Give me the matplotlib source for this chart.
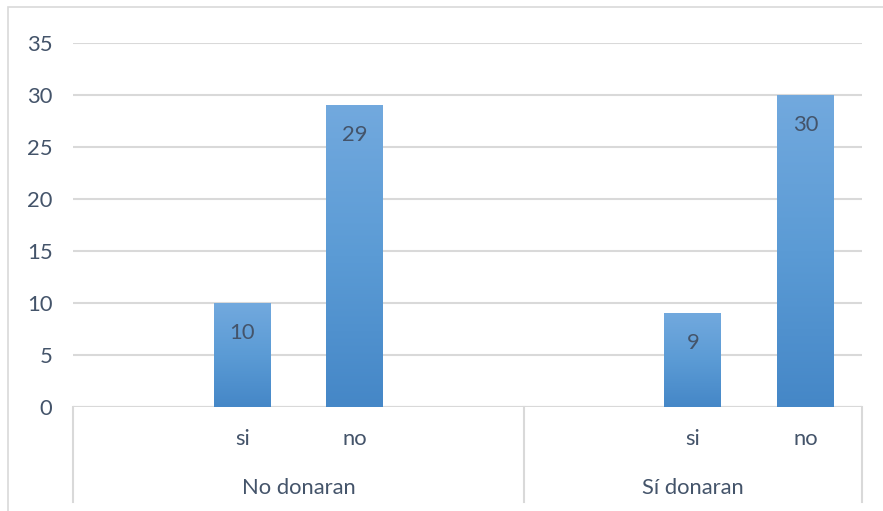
import matplotlib.pyplot as plt
import numpy as np
from matplotlib.patches import Rectangle
from matplotlib.colors import LinearSegmentedColormap

# category axis: two groups, each with answer slots (empty slots are spacing)
groups = ["No donaran", "Sí donaran"]
answers = [["", "si", "no", ""], ["", "si", "no"]]
counts = [[None, 10, 29, None], [None, 9, 30]]

yticks = [0, 5, 10, 15, 20, 25, 30, 35]

plt.rcParams['font.family'] = ['Lato', 'DejaVu Sans']
text_col = "#44546a"
tick_col = "#44546a"
grid_col = "#d9d9d9"
fs = 15.8

fig = plt.figure(figsize=(8.83, 5.11), dpi=100)
W, H = 883, 511
ax = fig.add_axes([73.3 / W, 1 - 406.7 / H, (861.7 - 73.3) / W, (406.7 - 42.7) / H])

# outer chart border
fig.patches.append(Rectangle((8 / W, -0.1), 1.1, (1 - 7 / H) + 0.1, transform=fig.transFigure,
                             fill=False, edgecolor=grid_col, lw=1.2))

grad = LinearSegmentedColormap.from_list("bar", ["#4587c7", "#5b9bd5", "#72a9de"])

xs, labels, vals = [], [], []
pos = 0
bounds = [-0.5]
for opts, cnt in zip(answers, counts):
    for o, c in zip(opts, cnt):
        xs.append(pos)
        labels.append(o)
        vals.append(c)
        pos += 1
    bounds.append(pos - 0.5)

width = 0.506
for x, v in zip(xs, vals):
    if v is None:
        continue
    bar = ax.bar(x, v, width=width, color="none", edgecolor="none")[0]
    img = ax.imshow(np.linspace(0, 1, 256).reshape(-1, 1), cmap=grad, origin="lower",
                    extent=[x - width / 2, x + width / 2, 0, v], aspect="auto", zorder=2)
    img.set_clip_path(bar)
    ax.text(x, v - 2.9, str(v), ha="center", va="center", fontsize=fs, color=text_col, zorder=3)

ax.set_aspect("auto")
ax.set_xlim(-0.5, pos - 0.5)
ax.set_ylim(0, 35)

ax.set_yticks(yticks)
ax.set_yticklabels([str(t) for t in yticks], fontsize=fs, color=tick_col)
ax.tick_params(axis="y", length=0, pad=15)
ax.set_xticks([])
ax.grid(axis="y", color=grid_col, lw=1.5)
ax.set_axisbelow(True)
for s in ax.spines.values():
    s.set_visible(False)

# category axis line and group separators
ax.axhline(0, color=grid_col, lw=1.5, zorder=1)
for b in bounds:
    ax.plot([b, b], [0, -0.261], transform=ax.get_xaxis_transform(), color=grid_col,
            lw=1.5, clip_on=False)
for x, lab in zip(xs, labels):
    if lab:
        ax.text(x, -0.088, lab, transform=ax.get_xaxis_transform(), ha="center", va="center",
                fontsize=fs, color=tick_col)
for i, g in enumerate(groups):
    mid = (bounds[i] + bounds[i + 1]) / 2
    ax.text(mid, -0.222, g, transform=ax.get_xaxis_transform(), ha="center", va="center",
            fontsize=fs, color=tick_col)

fig.savefig("out.png", dpi=100)
